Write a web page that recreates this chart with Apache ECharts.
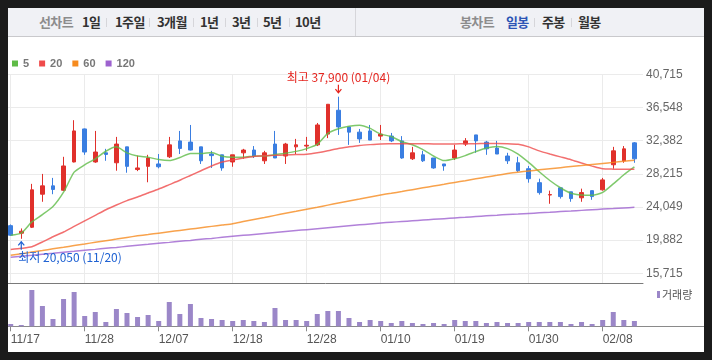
<!DOCTYPE html>
<html><head><meta charset="utf-8">
<script src="https://cdn.jsdelivr.net/npm/echarts@6/dist/echarts.min.js"></script>
<style>
html,body{margin:0;padding:0;background:#1b1b1b;}
#wrap{position:relative;width:712px;height:360px;overflow:hidden;}
#chart{position:absolute;left:0;top:0;width:712px;height:360px;}
#topbar{position:absolute;left:8px;top:8px;width:696px;height:28px;background:#f0f1f5;border-bottom:1px solid #c9c9cc;z-index:2;font-family:"Noto Sans CJK KR",sans-serif;}
.t{position:absolute;top:0;line-height:28px;font-size:13px;font-weight:bold;color:#333;letter-spacing:-0.6px;white-space:nowrap}
.g{color:#8c8c8c}
.b{color:#2d55b5}
.s{position:absolute;top:10px;width:1px;height:9px;background:#d6d6da}
.d{position:absolute;top:0;left:347px;width:1px;height:28px;background:#d6d6da}
</style></head>
<body>
<div id="wrap">
<div id="chart"></div>
<div id="topbar">
<span class="t g" style="left:31px">선차트</span>
<span class="t" style="left:74px">1일</span><span class="s" style="left:98px"></span>
<span class="t" style="left:107px">1주일</span><span class="s" style="left:141px"></span>
<span class="t" style="left:149px">3개월</span><span class="s" style="left:185px"></span>
<span class="t" style="left:192px">1년</span><span class="s" style="left:217px"></span>
<span class="t" style="left:224px">3년</span><span class="s" style="left:249px"></span>
<span class="t" style="left:255px">5년</span><span class="s" style="left:281px"></span>
<span class="t" style="left:287px">10년</span>
<span class="d"></span>
<span class="t g" style="left:452px">봉차트</span>
<span class="t b" style="left:498px">일봉</span><span class="s" style="left:526px"></span>
<span class="t" style="left:534px">주봉</span><span class="s" style="left:563px"></span>
<span class="t" style="left:570px">월봉</span>
</div>
</div>
<script>
const dates = ['11/17','11/20','11/21','11/22','11/23','11/24','11/27','11/28','11/29','11/30',
 '12/01','12/04','12/05','12/06','12/07','12/08','12/11','12/12','12/13','12/14',
 '12/15','12/18','12/19','12/20','12/21','12/22','12/26','12/27','12/28','01/02',
 '01/03','01/04','01/05','01/08','01/09','01/10','01/11','01/12','01/15','01/16',
 '01/17','01/18','01/19','01/22','01/23','01/24','01/25','01/26','01/29','01/30',
 '01/31','02/01','02/02','02/05','02/06','02/07','02/08','02/09','02/12','02/13'];
const openP = [21700,20750,21500,25650,26700,26150,29700,33850,29700,30850,
 29600,31600,28750,29150,29450,30350,32350,32200,31600,30700,
 30600,29700,30850,31200,29850,31950,30450,31600,31700,31850,
 33200,36200,34100,33450,33600,32950,32950,32350,30100,30600,
 30200,29450,30200,31950,33100,32200,31450,30450,29600,28850,
 27100,25550,26450,25950,25200,26100,26200,29350,29850,32100];
const closeP = [20500,21000,26200,26700,26250,29200,33600,30950,30950,30650,
 31950,29150,28950,30200,29100,31850,31400,31200,29850,30500,
 28950,30600,31200,30450,30850,30200,31950,31850,31800,34350,
 36950,34100,33450,32600,32450,33200,32350,30200,30850,29850,
 28950,29200,31200,32350,32350,31350,30700,29850,28600,27600,
 25850,25600,25350,25100,25850,25350,27450,31100,31350,30100];
const lowP = [20400,20050,21400,24700,25650,26050,29650,30600,29600,29850,
 28600,28350,28550,27150,28900,30200,30700,31150,29450,28950,
 28600,29100,30100,30200,29450,30200,29450,30700,31100,31700,
 32700,33100,31850,32100,32450,32450,32200,30100,29950,29700,
 28850,28600,29950,31700,30850,30600,30700,29450,28450,27100,
 25600,24450,25100,24700,24700,24950,26100,28850,29600,29600];
const highP = [21850,21350,26950,28200,27700,30350,34950,33900,33600,31350,
 32850,31600,30500,30600,30700,32850,33600,34350,31600,31100,
 30600,30600,31350,31700,31100,33600,32100,32600,32850,34600,
 36950,37900,34100,33850,34350,34350,33350,32950,31600,31100,
 30200,29450,31850,32700,33100,32350,32350,30850,30350,29200,
 27600,26100,26450,25950,26350,26100,27700,31600,31700,32200];
const ma5 = [20500,20750,22170,23090,24100,25900,28420,29340,30100,31050,
 31600,30850,30450,30300,30000,29870,30260,30780,30750,30900,
 30420,30300,30300,30430,30450,30620,30800,31030,31380,31900,
 33300,33880,34180,34320,33920,33200,32900,32250,31870,31250,
 30450,29870,30100,30500,31000,31450,31650,31380,30700,29650,
 28470,27370,26460,25780,25540,25510,25870,26940,28100,29080];
const ma20 = [18700,18850,19050,19650,20300,20900,21600,22300,23000,23700,
 24300,24850,25300,25800,26300,26850,27400,28000,28600,29200,
 29700,29950,30200,30400,30480,30530,30590,30630,30670,30850,
 31100,31400,31600,31780,31880,31960,31980,32000,32000,31980,
 31970,31960,31970,31990,32000,32010,32010,32000,31920,31600,
 31090,30700,30340,29980,29560,29180,28840,28800,28790,28790];
const ma60 = [17970,18170,18380,18580,18790,18990,19200,19400,19610,19810,
 20010,20220,20420,20590,20760,20930,21100,21270,21440,21610,
 21780,21950,22220,22480,22730,22990,23250,23500,23770,24020,
 24280,24540,24800,25050,25310,25560,25770,25990,26220,26450,
 26680,26900,27130,27350,27580,27800,28020,28240,28420,28570,
 28710,28850,28990,29120,29250,29390,29520,29650,29780,29910];
const ma120 = [17720,17850,17970,18100,18220,18350,18470,18600,18720,18850,
 18970,19100,19230,19350,19480,19600,19730,19850,19980,20100,
 20230,20360,20480,20600,20720,20840,20960,21080,21200,21320,
 21440,21560,21680,21800,21920,22040,22130,22220,22310,22400,
 22490,22580,22670,22750,22840,22930,23010,23100,23150,23230,
 23310,23390,23470,23540,23620,23700,23780,23850,23930,24000];
const volume = [115000,65000,1815000,1015000,365000,1365000,1715000,515000,715000,215000,
 865000,665000,465000,565000,265000,1215000,615000,1115000,415000,365000,
 315000,265000,315000,265000,215000,915000,315000,315000,265000,615000,
 765000,765000,415000,215000,315000,265000,165000,265000,165000,115000,
 165000,115000,315000,265000,265000,165000,215000,165000,165000,215000,
 215000,215000,215000,115000,215000,115000,315000,715000,315000,265000];
const yTicks = [15715,19882,24049,28215,32382,36548,40715];
const maNames = ['5','20','60','120'];
const maColors = ['#5fbb47','#ef4b4b','#f68b1f','#9d62cf'];
const hiIdx = 31, hiVal = 37900, loIdx = 1, loVal = 20050;

const fmt = v => Math.round(v).toString().replace(/\B(?=(\d{3})+(?!\d))/g, ',');
const candles = dates.map((d, i) => [openP[i], closeP[i], lowP[i], highP[i]]);
const maData = [ma5, ma20, ma60, ma120];

const PMIN = 14408, PMAX = 40715;
const chart = echarts.init(document.getElementById('chart'), null, {renderer: 'canvas'});
const option = {
  backgroundColor: '#ffffff',
  animation: false,
  legend: [
    {data: maNames, left: 12, top: 58, icon: 'rect', itemWidth: 6, itemHeight: 6, itemGap: 10, padding: 0,
     textStyle: {fontSize: 11, fontWeight: 'bold', color: '#777', fontFamily: 'Liberation Sans, Arial, sans-serif'}},
    {data: ['거래량'], left: 657, top: 289, icon: 'rect', itemWidth: 3, itemHeight: 7, padding: 0,
     textStyle: {fontSize: 11, color: '#555', fontFamily: '"Noto Sans CJK KR", sans-serif', padding: [0,0,0,-3]}}
  ],
  grid: [
    {left: 10.7, width: 623.7, top: 74.3, height: 209.4},
    {left: 8, width: 635, top: 74.3, height: 209.4},
    {left: 10.7, width: 623.7, top: 283.7, height: 42.6},
    {left: 8, width: 696, top: 283.7, height: 42.6}
  ],
  xAxis: [
    {gridIndex: 0, type: 'category', data: dates, boundaryGap: false,
     axisLine: {show: false}, axisTick: {show: false}, axisLabel: {show: false, interval: 6},
     splitLine: {show: true, interval: 6, lineStyle: {color: '#ebebeb', width: 1}}},
    {gridIndex: 1, type: 'value', min: 0, max: 1,
     axisLine: {show: true, onZero: false, lineStyle: {color: '#7a7a7a', width: 1}},
     axisTick: {show: false}, axisLabel: {show: false}, splitLine: {show: false}},
    {gridIndex: 2, type: 'category', data: dates, boundaryGap: false,
     axisLine: {show: false},
     axisTick: {show: true, interval: 6, length: 5, lineStyle: {color: '#8a8a8a'}},
     axisLabel: {show: true, interval: 6, align: 'left', margin: 7, fontSize: 12, color: '#555',
       fontFamily: 'Liberation Sans, Arial, sans-serif'},
     splitLine: {show: false}},
    {gridIndex: 3, type: 'value', min: 0, max: 1,
     axisLine: {show: true, onZero: false, lineStyle: {color: '#8a8a8a', width: 1}},
     axisTick: {show: false}, axisLabel: {show: false}, splitLine: {show: false}}
  ],
  yAxis: [
    {gridIndex: 0, type: 'value', min: PMIN, max: PMAX, show: false, splitLine: {show: false}},
    {gridIndex: 1, type: 'value', min: PMIN, max: PMAX, position: 'right',
     axisLine: {show: false}, axisTick: {show: false, customValues: yTicks},
     axisLabel: {customValues: yTicks, formatter: v => fmt(v), margin: 3, fontSize: 12, color: '#666',
       fontFamily: 'Liberation Sans, Arial, sans-serif'},
     splitLine: {show: true, lineStyle: {color: '#ebebeb', width: 1}}},
    {gridIndex: 2, type: 'value', min: 0, max: 2130000, show: false, splitLine: {show: false}},
    {gridIndex: 3, type: 'value', min: 0, max: 1, show: false, splitLine: {show: false}}
  ],
  series: [
    {type: 'candlestick', name: 'price', xAxisIndex: 0, yAxisIndex: 0, data: candles, barWidth: 4, clip: false,
     itemStyle: {color: '#e0302b', color0: '#3a7ee1', borderColor: '#e0302b', borderColor0: '#3a7ee1', borderWidth: 1}}
  ].concat(maNames.map((n, k) => ({
     type: 'line', name: n, xAxisIndex: 0, yAxisIndex: 0, data: maData[k], symbol: 'none', showSymbol: false,
     color: maColors[k], smooth: 0.2, clip: false,
     lineStyle: {width: 1.5, color: maColors[k], opacity: 0.8}
  }))).concat([
    {type: 'bar', name: '거래량', xAxisIndex: 2, yAxisIndex: 2, data: volume, barWidth: 5, clip: false,
     color: '#9b87c8', itemStyle: {color: '#9b87c8'}}
  ])
};
chart.setOption(option);

const ph = chart.convertToPixel({seriesIndex: 0}, [hiIdx, hiVal]);
const pl = chart.convertToPixel({seriesIndex: 0}, [loIdx, loVal]);
const red = '#e5251f', blue = '#1f62d3';
const annFont = '12px "Noto Sans CJK KR", sans-serif';
chart.setOption({
  graphic: [
    {type: 'line', shape: {x1: ph[0], y1: ph[1] - 12, x2: ph[0], y2: ph[1] - 4}, style: {stroke: red, lineWidth: 1.2}, z: 50},
    {type: 'polyline', shape: {points: [[ph[0] - 3, ph[1] - 7.5], [ph[0], ph[1] - 4], [ph[0] + 3, ph[1] - 7.5]]}, style: {stroke: red, lineWidth: 1.2, fill: null}, z: 50},
    {type: 'text', x: ph[0], y: ph[1] - 19, z: 50,
     style: {text: '최고 ' + fmt(hiVal) + ' (' + dates[hiIdx] + ')', fill: red, font: annFont, align: 'center', verticalAlign: 'middle'}},
    {type: 'line', shape: {x1: pl[0], y1: pl[1] + 11, x2: pl[0], y2: pl[1] + 3}, style: {stroke: blue, lineWidth: 1.2}, z: 50},
    {type: 'polyline', shape: {points: [[pl[0] - 3, pl[1] + 6.5], [pl[0], pl[1] + 3], [pl[0] + 3, pl[1] + 6.5]]}, style: {stroke: blue, lineWidth: 1.2, fill: null}, z: 50},
    {type: 'text', x: pl[0] - 3, y: pl[1] + 18.5, z: 50,
     style: {text: '최저 ' + fmt(loVal) + ' (' + dates[loIdx] + ')', fill: blue, font: annFont, align: 'left', verticalAlign: 'middle'}},
    {type: 'rect', shape: {x: 0, y: 0, width: 712, height: 8}, style: {fill: '#1b1b1b'}, z: 100},
    {type: 'rect', shape: {x: 0, y: 352, width: 712, height: 8}, style: {fill: '#1b1b1b'}, z: 100},
    {type: 'rect', shape: {x: 0, y: 0, width: 8, height: 360}, style: {fill: '#1b1b1b'}, z: 100},
    {type: 'rect', shape: {x: 704, y: 0, width: 8, height: 360}, style: {fill: '#1b1b1b'}, z: 100}
  ]
});
</script>
</body></html>
